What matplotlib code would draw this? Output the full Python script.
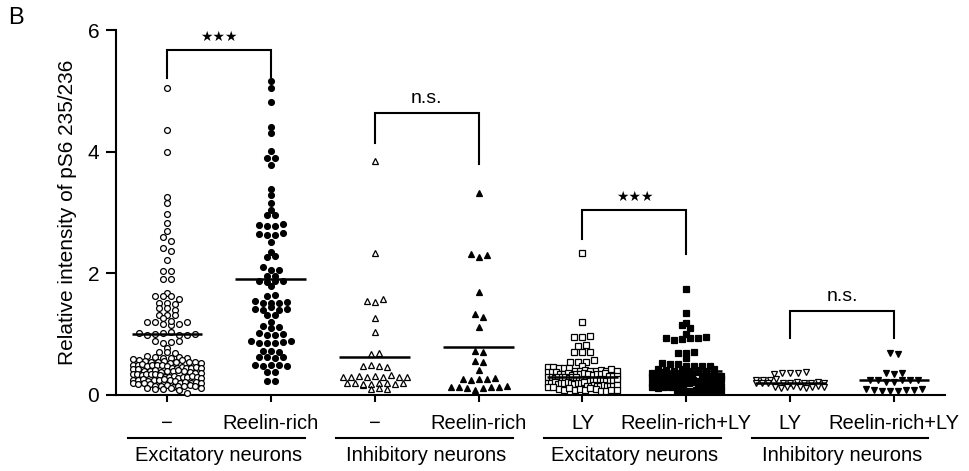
import numpy as np
import matplotlib.pyplot as plt
from matplotlib.transforms import blended_transform_factory

plt.rcParams['font.family'] = ['Liberation Sans', 'DejaVu Sans']

# values (relative intensity of pS6 235/236)
exc_ctrl = [5.04, 4.35, 4.00, 3.26, 3.15, 2.97, 2.83, 2.70, 2.59, 2.53, 2.41, 2.36, 2.22,
            2.04, 2.04, 1.90, 1.90, 1.68, 1.63, 1.63, 1.63, 1.58, 1.52, 1.52, 1.50, 1.43,
            1.43, 1.40, 1.32, 1.32, 1.32, 1.27, 1.20, 1.20, 1.17, 1.15, 1.17, 1.20, 1.22,
            1.02, 0.99, 1.00, 1.02, 1.03, 0.99, 0.99, 1.01, 0.88, 0.86, 0.87, 0.89, 0.78,
            0.70, 0.71, 0.69,
            0.64, 0.62, 0.60, 0.61, 0.59, 0.63, 0.60, 0.58,
            0.56, 0.55, 0.54, 0.56, 0.53, 0.55, 0.57, 0.54, 0.55,
            0.50, 0.49, 0.51, 0.48, 0.50, 0.52, 0.49, 0.50, 0.47,
            0.45, 0.44, 0.46, 0.43, 0.45, 0.44, 0.46, 0.42, 0.45,
            0.40, 0.39, 0.41, 0.38, 0.40, 0.39, 0.41, 0.40, 0.38,
            0.35, 0.34, 0.36, 0.33, 0.35, 0.34, 0.36, 0.35, 0.33,
            0.30, 0.29, 0.31, 0.28, 0.30, 0.29, 0.31, 0.30, 0.28,
            0.25, 0.24, 0.26, 0.23, 0.25, 0.24, 0.26, 0.25, 0.23,
            0.20, 0.19, 0.21, 0.18, 0.20, 0.19, 0.21, 0.20, 0.18,
            0.15, 0.14, 0.16, 0.13, 0.15, 0.14, 0.16, 0.15,
            0.11, 0.10, 0.12, 0.10, 0.11, 0.09, 0.04]
exc_reelin = [5.16, 5.04, 4.81, 4.40, 4.30, 4.01, 3.89, 3.89, 3.78, 3.38, 3.29, 3.16, 3.04,
              2.96, 2.96, 2.80, 2.78, 2.78, 2.81, 2.65, 2.63, 2.63, 2.66, 2.51, 2.35, 2.27,
              2.28, 2.10, 2.06, 2.06, 1.95, 1.96, 1.88, 1.86, 1.88, 1.87, 1.79, 1.63, 1.64,
              1.55, 1.52, 1.52, 1.52, 1.53, 1.42, 1.40, 1.44, 1.40, 1.41, 1.32, 1.32, 1.20,
              1.13, 1.10, 1.12, 1.02, 0.99, 0.98, 1.01, 0.88, 0.86, 0.85, 0.85, 0.87, 0.89,
              0.72, 0.73, 0.71, 0.62, 0.63, 0.60, 0.62, 0.50, 0.48, 0.50, 0.49, 0.48, 0.38,
              0.38, 0.23, 0.23]
inh_ctrl = [3.84, 2.33, 1.55, 1.53, 1.57, 1.27, 1.04, 0.67, 0.69, 0.48, 0.50, 0.47, 0.46,
            0.30, 0.29, 0.31, 0.30, 0.32, 0.29, 0.33, 0.30, 0.30, 0.19, 0.17, 0.20, 0.18,
            0.18, 0.19, 0.20, 0.18, 0.19, 0.10, 0.11, 0.10]
inh_reelin = [3.32, 2.32, 2.27, 2.30, 1.69, 1.33, 1.28, 1.12, 0.73, 0.71, 0.56, 0.54, 0.41,
              0.27, 0.25, 0.26, 0.27, 0.28, 0.13, 0.13, 0.12, 0.08, 0.12, 0.13, 0.13, 0.14]
exc_ly = [2.33, 1.20, 0.96, 0.95, 0.97, 0.80, 0.82, 0.70, 0.70, 0.71, 0.55, 0.55, 0.55, 0.58,
          0.46, 0.46, 0.45, 0.45, 0.45, 0.47,
          0.40, 0.39, 0.41, 0.38, 0.40, 0.39, 0.41, 0.40, 0.38, 0.37, 0.42, 0.40,
          0.35, 0.34, 0.36, 0.33, 0.35, 0.34, 0.36, 0.35, 0.33, 0.34, 0.35, 0.36,
          0.30, 0.29, 0.31, 0.28, 0.30, 0.29, 0.31, 0.30, 0.28, 0.29, 0.30, 0.31,
          0.25, 0.24, 0.26, 0.23, 0.25, 0.24, 0.26, 0.25, 0.23, 0.24, 0.25, 0.26,
          0.20, 0.19, 0.21, 0.18, 0.20, 0.19, 0.21, 0.20, 0.18, 0.19, 0.20, 0.21,
          0.15, 0.14, 0.16, 0.13, 0.15, 0.14, 0.16, 0.15, 0.13, 0.14, 0.15, 0.16,
          0.10, 0.09, 0.11, 0.08, 0.10, 0.09, 0.11, 0.10, 0.07, 0.06, 0.08, 0.09]
exc_reelin_ly = [1.75, 1.35, 1.18, 1.15, 1.10, 1.00, 0.93, 0.91, 0.92, 0.93, 0.93, 0.95,
                 0.69, 0.69, 0.70, 0.61, 0.52, 0.51, 0.51, 0.48, 0.48, 0.48, 0.48,
                 0.42, 0.41, 0.40, 0.42, 0.39, 0.41, 0.40, 0.42,
                 0.36, 0.35, 0.37, 0.34, 0.36, 0.35, 0.36, 0.34, 0.37,
                 0.31, 0.30, 0.29, 0.31, 0.30, 0.32, 0.29, 0.30, 0.31, 0.30,
                 0.25, 0.24, 0.26, 0.25, 0.23, 0.26, 0.24, 0.25, 0.24, 0.26,
                 0.19, 0.20, 0.18, 0.21, 0.19, 0.20, 0.18, 0.20, 0.19, 0.21,
                 0.14, 0.13, 0.15, 0.14, 0.12, 0.15, 0.13, 0.14, 0.15, 0.13,
                 0.08, 0.09, 0.07, 0.08, 0.06, 0.09, 0.08, 0.07]
inh_ly = [0.35, 0.36, 0.36, 0.36, 0.37, 0.25, 0.25, 0.25, 0.26,
          0.20, 0.19, 0.20, 0.21, 0.20, 0.19, 0.20, 0.21, 0.20, 0.19,
          0.13, 0.12, 0.13, 0.14, 0.13, 0.12, 0.13, 0.14, 0.13]
inh_reelin_ly = [0.69, 0.68, 0.36, 0.35, 0.36, 0.25, 0.24, 0.22, 0.22, 0.25, 0.24, 0.24,
                 0.10, 0.08, 0.07, 0.06, 0.07, 0.08, 0.09, 0.10]

series = [exc_ctrl, exc_reelin, inh_ctrl, inh_reelin,
          exc_ly, exc_reelin_ly, inh_ly, inh_reelin_ly]
means = [1.00, 1.90, 0.63, 0.79, 0.30, 0.40, 0.20, 0.25]
cat_labels = ['\u2212', 'Reelin-rich', '\u2212', 'Reelin-rich',
              'LY', 'Reelin-rich+LY', 'LY', 'Reelin-rich+LY']
group_labels = ['Excitatory neurons', 'Inhibitory neurons',
                'Excitatory neurons', 'Inhibitory neurons']
# (left group, right group, bar height, left leg end, right leg end, text)
brackets = [(1, 2, 5.67, 5.21, 5.23, '\u2605\u2605\u2605'),
            (3, 4, 4.64, 4.14, 3.80, 'n.s.'),
            (5, 6, 3.04, 2.56, 2.32, '\u2605\u2605\u2605'),
            (7, 8, 1.38, 0.94, 0.94, 'n.s.')]

markers = ['o', 'o', '^', '^', 's', 's', 'v', 'v']
filled = [False, True, False, True, False, True, False, True]
msizes = [4.2, 4.2, 4.4, 4.4, 4.8, 4.8, 4.4, 4.4]


def row_offsets(vals, band=0.07, step=0.077, half=0.33):
    # Prism-like scatter: values close together share a row, spread sideways
    vals = np.asarray(vals)
    order = np.argsort(vals, kind='stable')
    rows, cur, start = [], [], None
    for i in order:
        if start is None or vals[i] - start > band:
            if cur:
                rows.append(cur)
            cur, start = [i], vals[i]
        else:
            cur.append(i)
    rows.append(cur)
    offs = np.zeros(len(vals))
    for r in rows:
        r = sorted(r)
        n = len(r)
        sp = step if n < 2 or (n - 1) * step <= 2 * half else 2 * half / (n - 1)
        for j, i in enumerate(r):
            offs[i] = (j - (n - 1) / 2) * sp
    return offs


fig = plt.figure(figsize=(9.69, 4.71), dpi=100)
ax = fig.add_axes([0.1197, 0.1614, 0.8555, 0.7749])

for i, vals in enumerate(series):
    pos = i + 1
    xs = pos + row_offsets(vals)
    ax.plot(xs, vals, linestyle='none', marker=markers[i], ms=msizes[i],
            mfc='black' if filled[i] else 'white', mec='black', mew=0.9,
            clip_on=False, zorder=3)
    ax.plot([pos - 0.34, pos + 0.34], [means[i], means[i]], color='black',
            lw=1.8, zorder=4, solid_capstyle='butt')

for a, b, top, la, lb, txt in brackets:
    ax.plot([a, a, b, b], [la, top, top, lb], color='black', lw=1.5,
            clip_on=False, solid_joinstyle='miter')
    if txt.startswith('\u2605'):
        ax.text((a + b) / 2, top + 0.1, txt, ha='center', va='bottom',
                fontsize=10, family='DejaVu Sans')
    else:
        ax.text((a + b) / 2, top + 0.1, txt, ha='center', va='bottom', fontsize=14)

ax.set_xlim(0.51, 8.49)
ax.set_ylim(0, 6)
ax.spines['top'].set_visible(False)
ax.spines['right'].set_visible(False)
ax.spines['left'].set_linewidth(1.5)
ax.spines['bottom'].set_linewidth(1.5)
ax.set_yticks([0, 2, 4, 6])
ax.set_xticks(range(1, 9))
ax.set_xticklabels([])
ax.tick_params(axis='y', length=7, width=1.5, pad=5, labelsize=15)
ax.tick_params(axis='x', length=5, width=1.5)

trans = blended_transform_factory(ax.transData, ax.transAxes)
for i, lab in enumerate(cat_labels):
    ax.text(i + 1, -0.077, lab, transform=trans, ha='center', va='center', fontsize=14.5)
for g, lab in enumerate(group_labels):
    a = 2 * g + 1
    ax.plot([a - 0.37, a + 1.33], [-0.118, -0.118], transform=trans, color='black',
            lw=1.5, clip_on=False)
    ax.text(a + 0.5, -0.166, lab, transform=trans, ha='center', va='center', fontsize=14.5)

ax.text(-0.058, 0.5, 'Relative intensity of pS6 235/236', transform=ax.transAxes,
        rotation=90, ha='center', va='center', fontsize=15)
fig.text(0.008, 0.962, 'B', fontsize=17, ha='left', va='center')

fig.savefig('out.png', dpi=100)
